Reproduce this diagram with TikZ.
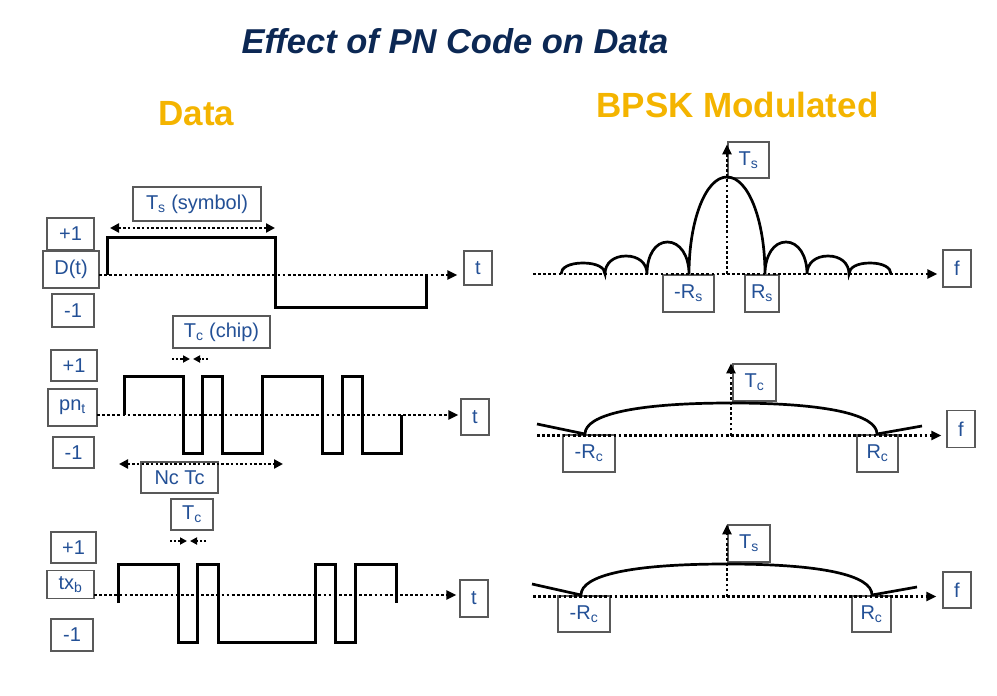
\documentclass[tikz,border=0pt]{standalone}
\usepackage{fontspec}
\setmainfont{Liberation Sans}
\usetikzlibrary{arrows.meta}
\definecolor{titleblue}{RGB}{12,40,84}
\definecolor{headorange}{RGB}{244,180,0}
\definecolor{tagblue}{RGB}{35,80,150}

\begin{document}
\begin{tikzpicture}[x=1pt,y=-1pt,
	tag/.style={draw=black!65, line width=1.2pt, fill=white, inner sep=0pt,
		text=tagblue, font=\fontsize{20}{24}\selectfont, text centered},
	axis/.style={line width=2.8pt, dash pattern=on 2.8pt off 2.3pt,
		-{Triangle[length=10pt,width=9pt]}},
	dim/.style={line width=2.5pt, dash pattern=on 2.5pt off 2.2pt,
		{Triangle[length=9pt,width=9pt]}-{Triangle[length=9pt,width=9pt]}},
	chiparrow/.style={line width=2.2pt, dash pattern=on 2.2pt off 2pt,
		-{Triangle[length=7pt,width=7pt]}},
	wave/.style={line width=3pt, line join=miter},
	spec/.style={line width=2.7pt}]
	\useasboundingbox (0,0) rectangle (997,696);
	
	% title and headings
	\node[anchor=base, text=titleblue,
	font=\fontsize{34.5}{40}\selectfont\bfseries\itshape] (title) at (455,53) {Effect of PN Code on Data};
	\node[anchor=base, text=headorange,
	font=\fontsize{35}{42}\selectfont\bfseries] (data) at (196.5,125) {Data};
	\node[anchor=base, text=headorange,
	font=\fontsize{35}{42}\selectfont\bfseries] (bpsk) at (737.5,117) {BPSK Modulated};
	
	% data signal
	\node[tag, minimum width=128pt, minimum height=34pt] (sym) at (197,204) {T\textsubscript{s} (symbol)};
	\node[tag, minimum width=47pt, minimum height=32pt] (plus1) at (70.5,234) {+1};
	\node[tag, minimum width=56pt, minimum height=37pt] (Dt) at (71,269.5) {D(t)};
	\node[tag, minimum width=42pt, minimum height=33pt] (minus1) at (73,310.5) {-1};
	\node[tag, minimum width=28pt, minimum height=34pt] (t1) at (478,268) {t};
	
	% pn code
	\node[tag, minimum width=97pt, minimum height=32pt] (chip) at (221.5,332) {T\textsubscript{c} (chip)};
	\node[tag, minimum width=46pt, minimum height=31pt] (plus2) at (74,365.5) {+1};
	\node[tag, minimum width=49pt, minimum height=37pt] (pn) at (72.5,407.5) {pn\textsubscript{t}};
	\node[tag, minimum width=41pt, minimum height=31pt] (minus2) at (73.5,452.5) {-1};
	\node[tag, minimum width=28pt, minimum height=36pt] (t2) at (475,417) {t};
	\node[tag, minimum width=77pt, minimum height=31pt] (nctc) at (179.5,477.5) {Nc Tc};
	
	% transmitted signal
	\node[tag, minimum width=42pt, minimum height=31pt] (tc3) at (192,514.5) {T\textsubscript{c}};
	\node[tag, minimum width=45pt, minimum height=31pt] (plus3) at (73.5,547.5) {+1};
	\node[tag, minimum width=47pt, minimum height=28pt] (tx) at (70.5,584.5) {tx\textsubscript{b}};
	\node[tag, minimum width=42pt, minimum height=32pt] (minus3) at (72,635) {-1};
	\node[tag, minimum width=28pt, minimum height=37pt] (t3) at (474,598.5) {t};
	
	% spectra
	\node[tag, minimum width=41pt, minimum height=36pt] (Ts1) at (748.5,160) {T\textsubscript{s}};
	\node[tag, minimum width=51pt, minimum height=37pt] (mRs) at (688.5,293.5) {-R\textsubscript{s}};
	\node[tag, minimum width=34pt, minimum height=37pt] (Rs) at (762,293.5) {R\textsubscript{s}};
	\node[tag, minimum width=28pt, minimum height=37pt] (f1) at (957,268.5) {f};
	
	\node[tag, minimum width=43pt, minimum height=37pt] (Tc2) at (754.5,382.5) {T\textsubscript{c}};
	\node[tag, minimum width=52pt, minimum height=37pt] (mRc2) at (589,453.5) {-R\textsubscript{c}};
	\node[tag, minimum width=41pt, minimum height=37pt] (Rc2) at (877.5,453.5) {R\textsubscript{c}};
	\node[tag, minimum width=28pt, minimum height=37pt] (f2) at (961,429) {f};
	
	\node[tag, minimum width=42pt, minimum height=37pt] (Ts3) at (749,543.5) {T\textsubscript{s}};
	\node[tag, minimum width=52pt, minimum height=36pt] (mRc3) at (584,614) {-R\textsubscript{c}};
	\node[tag, minimum width=39pt, minimum height=36pt] (Rc3) at (871.5,614) {R\textsubscript{c}};
	\node[tag, minimum width=28pt, minimum height=36pt] (f3) at (957,590) {f};
	
	% axes
	\coordinate (a1) at (99,275);
	\coordinate (a2) at (97,415);
	\coordinate (a3) at (94,595);
	\draw[axis, shorten >=6pt] (a1) -- (a1 -| t1.west);
	\draw[axis, shorten >=2pt] (a2) -- (a2 -| t2.west);
	\draw[axis, shorten >=3pt] (a3) -- (a3 -| t3.west);
	
	\coordinate (h1) at (533,274);
	\coordinate (o1) at (727,274);
	\coordinate (h2) at (537,435.5);
	\coordinate (o2) at (731,435.5);
	\coordinate (h3) at (533,596.5);
	\coordinate (o3) at (727,596.5);
	\draw[axis, shorten >=5pt] (h1) -- (h1 -| f1.west);
	\draw[axis, shorten >=3pt] (o1) -- (o1 |- Ts1.north);
	\draw[axis, shorten >=5pt] (h2) -- (h2 -| f2.west);
	\draw[axis] (o2) -- (o2 |- Tc2.north);
	\draw[axis, shorten >=6pt] (h3) -- (h3 -| f3.west);
	\draw[axis] (o3) -- (o3 |- Ts3.north);
	
	% durations
	\coordinate (s1) at (110,228);
	\coordinate (s2) at (275,228);
	\draw[dim] (s1) -- (s2);
	\coordinate (n1) at (119,464);
	\coordinate (n2) at (283,464);
	\draw[dim] (n1) -- (n2);
	\coordinate (c1) at (172,359);
	\coordinate (c2) at (190,359);
	\coordinate (c3) at (208,359);
	\coordinate (c4) at (193,359);
	\draw[chiparrow] (c1) -- (c2);
	\draw[chiparrow] (c3) -- (c4);
	\coordinate (c5) at (170,541);
	\coordinate (c6) at (187,541);
	\coordinate (c7) at (206,541);
	\coordinate (c8) at (190,541);
	\draw[chiparrow] (c5) -- (c6);
	\draw[chiparrow] (c7) -- (c8);
	
	% waveforms
	\draw[wave] (107,275) -- (107,237) -- (275,237) -- (275,307) -- (426,307) -- (426,275);
	\draw[wave] (124,415) -- (124,376) -- (183,376) -- (183,453) -- (202,453) -- (202,376)
	-- (222,376) -- (222,453) -- (262,453) -- (262,376) -- (322,376) -- (322,453)
	-- (342,453) -- (342,376) -- (362,376) -- (362,453) -- (401,453) -- (401,415);
	\draw[wave] (118,603) -- (118,564) -- (178,564) -- (178,642) -- (197,642) -- (197,564)
	-- (218,564) -- (218,642) -- (315,642) -- (315,564) -- (335,564) -- (335,642)
	-- (355,642) -- (355,564) -- (396,564) -- (396,603);
	
	% spectrum curves
	\draw[spec] (561,274) .. controls (561,267.4) and (569.8,263) .. (583,263)
	.. controls (596.2,263) and (605,267.4) .. (605,274)
	.. controls (605,263.2) and (613.4,256) .. (626,256)
	.. controls (638.6,256) and (647,263.2) .. (647,274)
	.. controls (647,255.4) and (655.2,242) .. (667.5,242)
	.. controls (679.8,242) and (689,255.4) .. (689,274)
	.. controls (689,221) and (705.5,177) .. (727,177)
	.. controls (748.5,177) and (765,221) .. (765,274)
	.. controls (765,255.4) and (773.7,242) .. (786,242)
	.. controls (798.3,242) and (807,255.4) .. (807,274)
	.. controls (807,263.2) and (815.4,256) .. (828,256)
	.. controls (840.6,256) and (849,263.2) .. (849,274)
	.. controls (849,267.4) and (857.4,263) .. (870,263)
	.. controls (882.6,263) and (891,267.4) .. (891,274);
	\draw[spec] (537,424) -- (585,434) .. controls (585,414.5) and (636,403) .. (731,403)
	.. controls (826,403) and (877,414.5) .. (877,434) -- (922,426);
	\draw[spec] (532,584) -- (581,595) .. controls (581,575) and (632,564) .. (726.5,564)
	.. controls (821,564) and (872,575) .. (872,595) -- (917,587);
\end{tikzpicture}
\end{document}
